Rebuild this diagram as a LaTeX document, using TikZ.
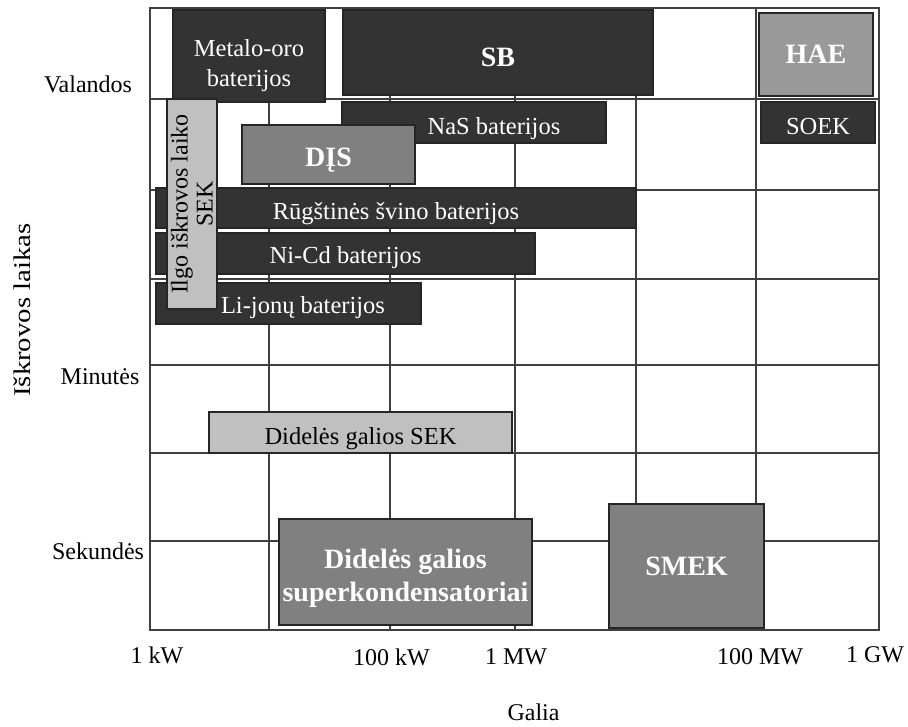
\documentclass[tikz,border=0pt]{standalone}
\usepackage{fontspec}
\setmainfont{Liberation Serif}
\usetikzlibrary{positioning}
\definecolor{darkfill}{HTML}{333333}
\definecolor{midfill}{HTML}{808080}
\definecolor{lightfill}{HTML}{C0C0C0}
\definecolor{haefill}{HTML}{999999}
\definecolor{gridcol}{HTML}{404040}
\newcommand{\lowtext}[2][5]{\raisebox{-#1pt}[\height][\depth]{#2}}
\tikzset{
  cell/.style={draw=black!85, line width=1.5pt, inner sep=0pt, align=center,
    font=\fontsize{24.5}{30}\selectfont},
  darkbox/.style={cell, fill=darkfill, text=white},
  midbox/.style={cell, fill=midfill, text=white,
    font=\fontsize{28}{33}\selectfont\bfseries},
  lightbox/.style={cell, fill=lightfill, text=black},
  gridline/.style={draw=gridcol, line width=1.3pt},
  axlab/.style={font=\fontsize{24}{28}\selectfont, text=black}}
\begin{document}
\begin{tikzpicture}[x=1pt, y=-1pt]
    \useasboundingbox (0,0) rectangle (908,726);
    % grid
    \foreach \gx in {269,390,515,636,756}
      \draw[gridline] (\gx,8) -- (\gx,630);
    \foreach \gy in {99,190,279,365,453,541}
      \draw[gridline] (150,\gy) -- (879,\gy);
    \draw[gridline] (150,8) rectangle (879,630);
    % storage technologies
    \node[darkbox, minimum width=152pt, minimum height=92pt] (metal) at (249,56)
      {\lowtext[9]{\begin{tabular}{@{}c@{}}Metalo-oro\\baterijos\end{tabular}}};
    \node[darkbox, minimum width=310pt, minimum height=85pt, font=\fontsize{28}{33}\selectfont\bfseries] (sb) at (498,52.5) {\lowtext{SB}};
    \node[midbox, fill=haefill, minimum width=114pt, minimum height=83pt] (hae) at (816,54.5) {HAE};
    \node[darkbox, minimum width=114pt, minimum height=41pt] (soek) at (818,122.5) {\lowtext[4]{SOEK}};
    \node[darkbox, minimum width=264pt, minimum height=41pt] (nas) at (474,122.5) {\lowtext[6]{\hspace*{40pt}NaS baterijos}};
    \node[midbox, minimum width=173pt, minimum height=59pt] (dis) at (328.5,154.5) {\lowtext[6]{DĮS}};
    \node[darkbox, minimum width=480pt, minimum height=40pt] (rugst) at (396,208) {\lowtext[6]{Rūgštinės švino baterijos}};
    \node[darkbox, minimum width=379pt, minimum height=41pt] (nicd) at (345.5,253.5) {\lowtext[4]{Ni-Cd baterijos}};
    \node[darkbox, minimum width=265pt, minimum height=41pt] (lijon) at (288.5,303.5) {\lowtext[4]{\hspace*{29pt}Li-jonų baterijos}};
    \node[lightbox, rotate=90, minimum width=210pt, minimum height=50pt,
      font=\fontsize{24}{25}\selectfont] (ilgo) at (192,204) {Ilgo iškrovos laiko\\SEK};
    \node[lightbox, minimum width=303pt, minimum height=41pt] (dgsek) at (360.5,432.5) {\lowtext[6]{Didelės galios SEK}};
    \node[midbox, minimum width=253pt, minimum height=106pt] (superk) at (405.5,572)
      {\lowtext[6]{\begin{tabular}{@{}c@{}}Didelės galios\\superkondensatoriai\end{tabular}}};
    \node[midbox, minimum width=155pt, minimum height=124pt] (smek) at (686.5,566) {SMEK};
    % axes
    \node[axlab] (valand) at (88,84) {Valandos};
    \node[axlab] (minut) at (100,377) {Minutės};
    \node[axlab] (sekund) at (98,551) {Sekundės};
    \node[axlab, rotate=90] (ylab) at (22,310) {\scalebox{1.2}[1]{Iškrovos laikas}};
    \node[axlab] (kw) at (157,655) {1 kW};
    \node[axlab] (hkw) at (391.5,657) {100 kW};
    \node[axlab] (mw) at (516,657) {1 MW};
    \node[axlab] (hmw) at (760,657) {100 MW};
    \node[axlab] (gw) at (875,655) {1 GW};
    \node[axlab] (xlab) at (533.5,712) {Galia};
\end{tikzpicture}
\end{document}
